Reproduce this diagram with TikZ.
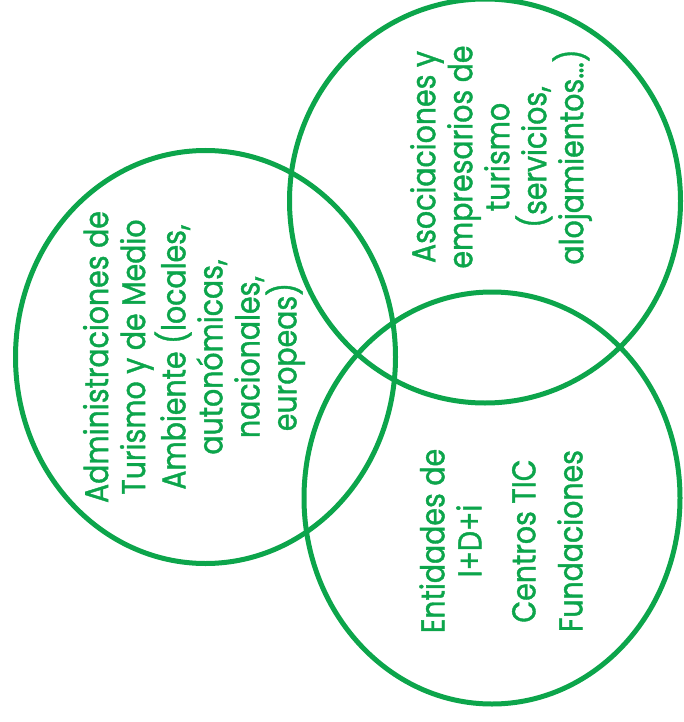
\documentclass[tikz,border=0pt]{standalone}
\usepackage{fontspec}
\setmainfont{Poppins}[FakeStretch=0.86,FakeBold=1.2]
\usetikzlibrary{shapes.geometric}
\definecolor{vgreen}{RGB}{12,165,75}
\begin{document}
\begin{tikzpicture}[x=1pt,y=-1pt,
  ring/.style={ellipse,draw=vgreen,line width=5pt,inner sep=0pt,outer sep=0pt},
  lbl/.style={rotate=90,align=center,text=vgreen,inner sep=0pt,
    font=\fontsize{33}{37}\selectfont}]
\useasboundingbox (0,0) rectangle (683,722);
\node[ring,minimum width=380pt,minimum height=413pt] (e1) at (205.5,357) {};
\node[ring,minimum width=391pt,minimum height=404pt] (e2) at (485,201) {};
\node[ring,minimum width=376pt,minimum height=412pt] (e3) at (492,498) {};
\node[lbl] (t1) at (194,357) {Administraciones de\\Turismo y de Medio\\Ambiente (locales,\\autonómicas,\\nacionales,\\europeas)};
\node[lbl] (t2) at (501,157) {Asociaciones y\\empresarios de\\turismo\\(servicios,\\alojamientos…)};
\node[lbl] (t3) at (501,541) {Entidades de\\I+D+i\\[17pt]Centros TIC\\[10pt]Fundaciones};
\end{tikzpicture}
\end{document}
